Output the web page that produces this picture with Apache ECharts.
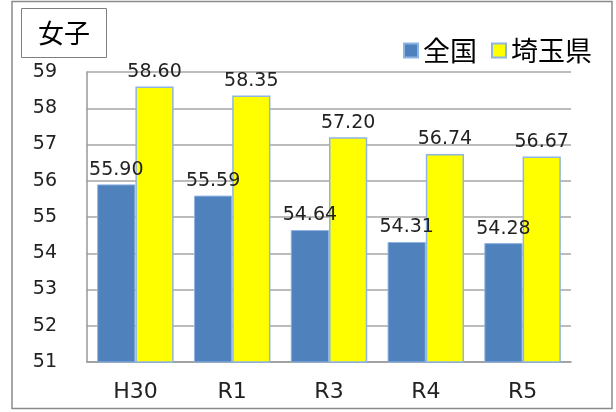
<!DOCTYPE html>
<html>
<head>
<meta charset="utf-8">
<script src="https://cdn.jsdelivr.net/npm/echarts@6/dist/echarts.min.js"></script>
<style>
html, body { margin: 0; padding: 0; background: #fff; }
#chart { width: 616px; height: 412px; }
</style>
</head>
<body>
<div id="chart"></div>
<script>
// 年度
var categories = ['H30', 'R1', 'R3', 'R4', 'R5'];
// 全国 / 埼玉県 (女子)
var zenkoku = [55.90, 55.59, 54.64, 54.31, 54.28];
var saitama = [58.60, 58.35, 57.20, 56.74, 56.67];
var yMin = 51, yMax = 59, yStep = 1;

var myChart = echarts.init(document.getElementById('chart'));

var labelOpt = {
	show : true,
	position : 'top',
	distance : 5,
	color : '#222',
	fontSize : 19,
	fontFamily : 'DejaVu Sans',
	formatter : function (p) { return p.value.toFixed(2); }
};

var option = {
	animation : false,
	backgroundColor : '#fff',
	title : {
		text : '女子',
		left : 21,
		top : 8,
		padding : [12, 17, 12, 17],
		borderColor : '#7f7f7f',
		borderWidth : 1,
		textStyle : {
			fontSize : 26,
			fontWeight : 'normal',
			color : '#000',
			fontFamily : 'Noto Sans CJK JP'
		}
	},
	legend : {
		left : 398,
		top : 32,
		itemWidth : 14,
		itemHeight : 14,
		itemGap : 14,
		icon : 'rect',
		textStyle : {
			fontSize : 27,
			fontWeight : 'normal',
			color : '#000',
			fontFamily : 'Noto Sans CJK JP'
		},
		data : ['全国', '埼玉県']
	},
	graphic : [ {
		type : 'rect',
		shape : { x : 12, y : 1.5, width : 600, height : 407 },
		style : { fill : null, stroke : '#8a8a8a', lineWidth : 1.5 },
		silent : true
	} ],
	grid : {
		left : 87,
		right : 45,
		top : 72,
		bottom : 50
	},
	xAxis : {
		type : 'category',
		data : categories,
		axisTick : { show : false },
		axisLine : { lineStyle : { color : '#999', width : 1.5 } },
		axisLabel : {
			margin : 19,
			fontSize : 22,
			color : '#222',
			fontFamily : 'DejaVu Sans'
		}
	},
	yAxis : {
		type : 'value',
		min : yMin,
		max : yMax,
		interval : yStep,
		axisLine : { show : true, lineStyle : { color : '#999', width : 1.5 } },
		axisTick : { show : false },
		splitLine : { lineStyle : { color : '#a6a6a6', width : 1.5 } },
		axisLabel : {
			margin : 30,
			fontSize : 19,
			color : '#222',
			fontFamily : 'DejaVu Sans'
		}
	},
	series : [ {
		name : '全国',
		type : 'bar',
		barGap : '0%',
		barCategoryGap : '21%',
		itemStyle : { color : '#4f81bd', borderColor : '#8eb4e3', borderWidth : 1 },
		label : labelOpt,
		data : zenkoku
	}, {
		name : '埼玉県',
		type : 'bar',
		itemStyle : { color : '#ffff00', borderColor : '#8eb4e3', borderWidth : 1.5 },
		label : labelOpt,
		data : saitama
	} ]
};

myChart.setOption(option);
</script>
</body>
</html>
